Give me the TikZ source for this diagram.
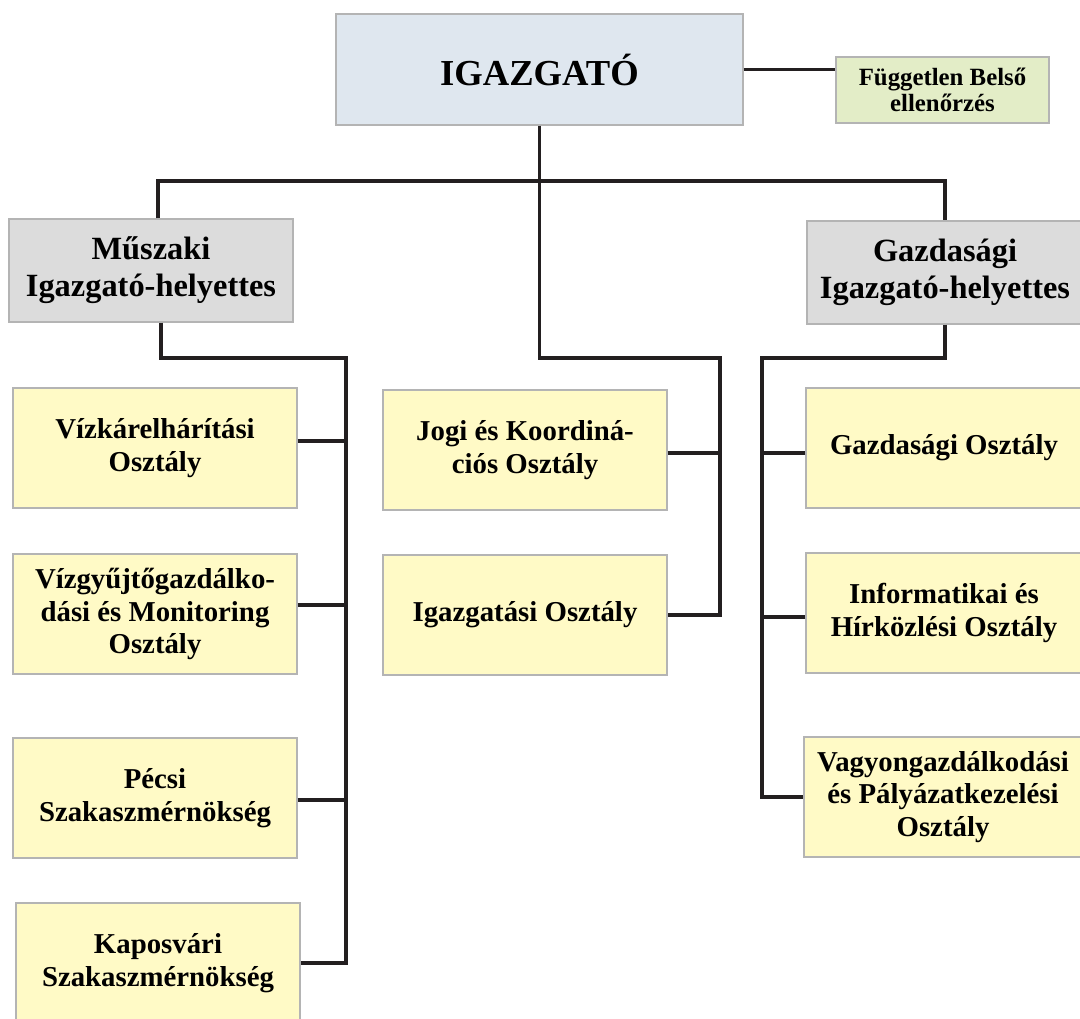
\documentclass[tikz,border=0pt]{standalone}
\usepackage{fontspec}
\setmainfont{Liberation Serif}
\usetikzlibrary{positioning, calc}
\usepackage{xcolor}

\definecolor{bossblue}{HTML}{DFE7EF}
\definecolor{auditgreen}{HTML}{E3EDC7}
\definecolor{deputygray}{HTML}{DCDCDC}
\definecolor{deptyellow}{HTML}{FFFAC6}
\definecolor{edgegray}{HTML}{B4B4B4}
\definecolor{wireblack}{HTML}{231F20}

\tikzset{
    box/.style={draw=edgegray, line width=0.6pt, inner sep=0pt, align=center, font=\bfseries},
    boss/.style={box, fill=bossblue, minimum width=203.5pt, minimum height=55.5pt, font=\bfseries\fontsize{18.3}{21}\selectfont},
    audit/.style={box, fill=auditgreen, minimum width=106.5pt, minimum height=33pt, font=\bfseries\fontsize{12.4}{13}\selectfont},
    deputy/.style={box, fill=deputygray, minimum width=142pt, minimum height=51.5pt, font=\bfseries\fontsize{16.2}{18.5}\selectfont},
    dept/.style={box, fill=deptyellow, minimum width=142pt, minimum height=60pt, font=\bfseries\fontsize{14.4}{16.2}\selectfont},
    wire/.style={draw=wireblack, line width=1.6pt}
}

\begin{document}
\begin{tikzpicture}[x=0.5pt, y=-0.5pt]

    \useasboundingbox (0,0) rectangle (1080,1018);

    %top level
    \node[boss] (igazgato) at (539.5,69.5) {IGAZGATÓ};
    \node[audit] (fuggetlen) at (942.5,90) {Független Belső\\ellenőrzés};

    %deputies
    \node[deputy] (muszaki) at (151,270.5) {Műszaki\\Igazgató-helyettes};
    \node[deputy, minimum width=138pt] (gazdasagi) at (945,272.5) {Gazdasági\\Igazgató-helyettes};

    %left column
    \node[dept] (vizkar) at (155,448) {Vízkárelhárítási\\Osztály};
    \node[dept] (vizgyujto) at (155,614) {Vízgyűjtőgazdálko-\\dási és Monitoring\\Osztály};
    \node[dept] (pecsi) at (155,798) {Pécsi\\Szakaszmérnökség};
    \node[dept] (kaposvari) at (158,963) {Kaposvári\\Szakaszmérnökség};

    %middle column
    \node[dept] (jogi) at (525,450) {Jogi és Koordiná-\\ciós Osztály};
    \node[dept] (igazgatasi) at (525,615) {Igazgatási Osztály};

    %right column
    \node[dept, minimum width=138pt] (gazdosztaly) at (944,448) {Gazdasági Osztály};
    \node[dept, minimum width=138pt] (informatikai) at (944,613) {Informatikai és\\Hírközlési Osztály};
    \node[dept, minimum width=139pt] (vagyon) at (943,797) {Vagyongazdálkodási\\és Pályázatkezelési\\Osztály};

    %bend points
    \coordinate (topbus) at (537,181);
    \coordinate (leftrail) at (346,358);
    \coordinate (midrail) at (720,358);
    \coordinate (rightrail) at (762,358);

    %connectors
    \draw[wire] (igazgato.east) -- (igazgato.east -| fuggetlen.west);
    \draw[wire] ([xshift=3.5pt]muszaki.north) |- (topbus) -| (gazdasagi.north);
    \draw[wire] (igazgato.south) |- (midrail) |- (igazgatasi.east);
    \draw[wire] ([yshift=-1.5pt]jogi.east) -- ([yshift=-1.5pt]jogi.east -| midrail);

    \draw[wire] ([xshift=5pt]muszaki.south) |- (leftrail) |- (kaposvari.east);
    \draw[wire] ([yshift=3.5pt]vizkar.east) -- ([yshift=3.5pt]vizkar.east -| leftrail);
    \draw[wire] ([yshift=4.5pt]vizgyujto.east) -- ([yshift=4.5pt]vizgyujto.east -| leftrail);
    \draw[wire] ([yshift=-1pt]pecsi.east) -- ([yshift=-1pt]pecsi.east -| leftrail);

    \draw[wire] (gazdasagi.south) |- (rightrail) |- (vagyon.west);
    \draw[wire] ([yshift=-2.5pt]gazdosztaly.west) -- ([yshift=-2.5pt]gazdosztaly.west -| rightrail);
    \draw[wire] ([yshift=-2pt]informatikai.west) -- ([yshift=-2pt]informatikai.west -| rightrail);

\end{tikzpicture}
\end{document}
